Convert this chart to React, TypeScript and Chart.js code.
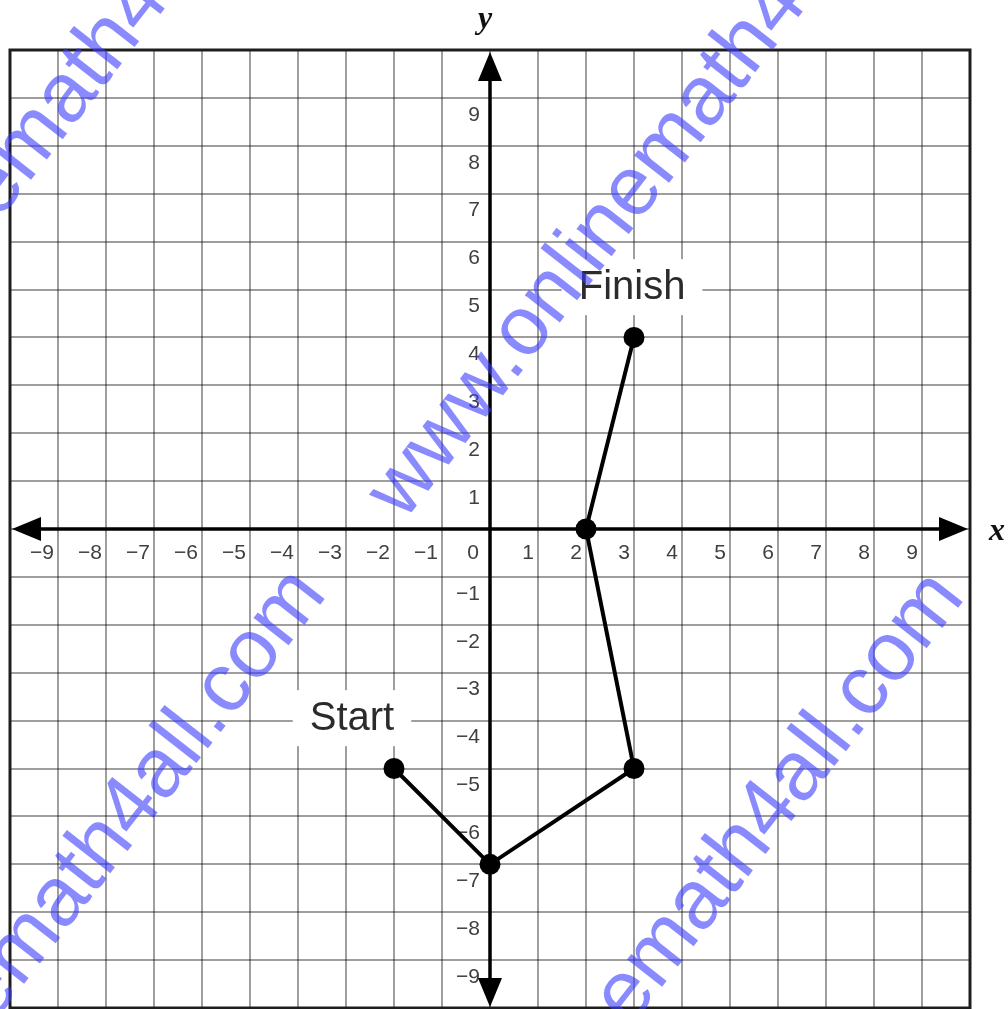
import { useEffect, useRef } from 'react';
import { Chart, registerables } from 'chart.js';

Chart.register(...registerables);

// Path points (Start -> ... -> Finish)
const pathX = [-2, 0, 3, 2, 3];
const pathY = [-5, -7, -5, 0, 4];

// Annotation labels (data coordinates of label centres)
const noteTexts = ['Start', 'Finish'];
const noteX = [-2.875, 2.96];
const noteY = [-3.95, 5.05];

// Axis range and tick labels
const axisMin = -10;
const axisMax = 10;
const xTickValues = [-9, -8, -7, -6, -5, -4, -3, -2, -1, 1, 2, 3, 4, 5, 6, 7, 8, 9];
const yTickValues = [-9, -8, -7, -6, -5, -4, -3, -2, -1, 1, 2, 3, 4, 5, 6, 7, 8, 9];
const originLabel = '0';
const axisNames = ['x', 'y'];

const watermarkText = 'www.onlinemath4all.com';

const fmt = (v: number) => (v < 0 ? '\u2212' + Math.abs(v) : String(v));

const overlayPlugin = {
  id: 'gridOverlay',
  beforeDatasetsDraw(chart: any) {
    const { ctx, chartArea: a, scales } = chart;
    const xs = scales.x;
    const ys = scales.y;
    const x0 = xs.getPixelForValue(0);
    const y0 = ys.getPixelForValue(0);
    ctx.save();

    // Label boxes + text
    ctx.font = '40px "Liberation Sans", Arial, sans-serif';
    ctx.textAlign = 'center';
    ctx.textBaseline = 'middle';
    noteTexts.forEach((t, i) => {
      const px = xs.getPixelForValue(noteX[i]);
      const py = ys.getPixelForValue(noteY[i]);
      const w = ctx.measureText(t).width + 34;
      ctx.fillStyle = '#ffffff';
      ctx.fillRect(px - w / 2, py - 28, w, 56);
      ctx.fillStyle = '#2b2b2b';
      ctx.fillText(t, px, py + 1);
    });

    // Tick labels
    ctx.font = '21px "Liberation Sans", Arial, sans-serif';
    ctx.fillStyle = '#3f3f3f';
    ctx.textAlign = 'right';
    ctx.textBaseline = 'middle';
    xTickValues.forEach((v) => {
      ctx.fillText(fmt(v), xs.getPixelForValue(v) - 4, y0 + 24);
    });
    ctx.fillText(originLabel, x0 - 11, y0 + 24);
    yTickValues.forEach((v) => {
      ctx.fillText(fmt(v), x0 - 10, ys.getPixelForValue(v) + 17);
    });

    // Axes
    ctx.strokeStyle = '#000';
    ctx.fillStyle = '#000';
    ctx.lineWidth = 3.5;
    ctx.beginPath();
    ctx.moveTo(a.left + 10, y0);
    ctx.lineTo(a.right - 10, y0);
    ctx.moveTo(x0, a.top + 10);
    ctx.lineTo(x0, a.bottom - 8);
    ctx.stroke();

    const tri = (p: number[][]) => {
      ctx.beginPath();
      ctx.moveTo(p[0][0], p[0][1]);
      ctx.lineTo(p[1][0], p[1][1]);
      ctx.lineTo(p[2][0], p[2][1]);
      ctx.closePath();
      ctx.fill();
    };
    const L = 29;
    const H = 12;
    tri([[a.left + 2, y0], [a.left + 2 + L, y0 - H], [a.left + 2 + L, y0 + H]]);
    tri([[a.right - 2, y0], [a.right - 2 - L, y0 - H], [a.right - 2 - L, y0 + H]]);
    tri([[x0, a.top + 2], [x0 - H, a.top + 2 + L], [x0 + H, a.top + 2 + L]]);
    tri([[x0, a.bottom - 1], [x0 - H, a.bottom - 1 - L], [x0 + H, a.bottom - 1 - L]]);

    // Frame
    ctx.strokeStyle = '#1e1e1e';
    ctx.lineWidth = 3;
    ctx.strokeRect(a.left, a.top, a.right - a.left, a.bottom - a.top);

    // Axis names
    ctx.font = 'italic bold 32px "Liberation Serif", "DejaVu Serif", serif';
    ctx.fillStyle = '#111';
    ctx.textAlign = 'center';
    ctx.textBaseline = 'alphabetic';
    ctx.fillText(axisNames[0], a.right + 27, y0 + 11);
    ctx.fillText(axisNames[1], x0 - 5, a.top - 22);

    ctx.restore();
  },
  afterDraw(chart: any) {
    const { ctx } = chart;
    const starts = [
      [404, 522],
      [-234, 519],
      [397, 1326],
      [-241, 1323],
    ];
    ctx.save();
    ctx.font = '84px "Liberation Sans", Arial, sans-serif';
    ctx.fillStyle = 'rgba(60, 60, 255, 0.6)';
    ctx.textAlign = 'left';
    ctx.textBaseline = 'alphabetic';
    starts.forEach(([sx, sy]) => {
      ctx.save();
      ctx.translate(sx, sy);
      ctx.rotate((-52 * Math.PI) / 180);
      ctx.fillText(watermarkText, 0, 0);
      ctx.restore();
    });
    ctx.restore();
  },
};

export default function App() {
  const ref = useRef<HTMLCanvasElement | null>(null);

  useEffect(() => {
    if (!ref.current) return;
    const data = pathX.map((x, i) => ({ x, y: pathY[i] }));
    const gridStyle = {
      color: 'rgba(0,0,0,0.38)',
      lineWidth: 2,
      drawTicks: false,
      tickLength: 0,
    };
    const chart = new Chart(ref.current, {
      type: 'scatter',
      data: {
        datasets: [
          {
            data,
            showLine: true,
            borderColor: '#000',
            borderWidth: 4,
            pointRadius: 10.5,
            pointBackgroundColor: '#000',
            pointBorderWidth: 0,
            pointHoverRadius: 10.5,
            clip: false as any,
          },
        ],
      },
      options: {
        animation: false,
        responsive: false,
        devicePixelRatio: 1,
        layout: { autoPadding: false, padding: { left: 10, top: 50, right: 38, bottom: 1 } },
        plugins: {
          legend: { display: false },
          tooltip: { enabled: false },
        },
        scales: {
          x: {
            type: 'linear',
            min: axisMin,
            max: axisMax,
            ticks: { display: false, stepSize: 1, padding: 0 },
            grid: gridStyle,
            border: { display: false },
          },
          y: {
            type: 'linear',
            min: axisMin,
            max: axisMax,
            ticks: { display: false, stepSize: 1, padding: 0 },
            grid: gridStyle,
            border: { display: false },
          },
        },
      },
      plugins: [overlayPlugin],
    });
    return () => chart.destroy();
  }, []);

  return (
    <div style={{ position: 'fixed', left: 0, top: 0, width: 1008, height: 1009, background: '#fff' }}>
      <canvas ref={ref} width={1008} height={1009} style={{ width: 1008, height: 1009, display: 'block' }} />
    </div>
  );
}
